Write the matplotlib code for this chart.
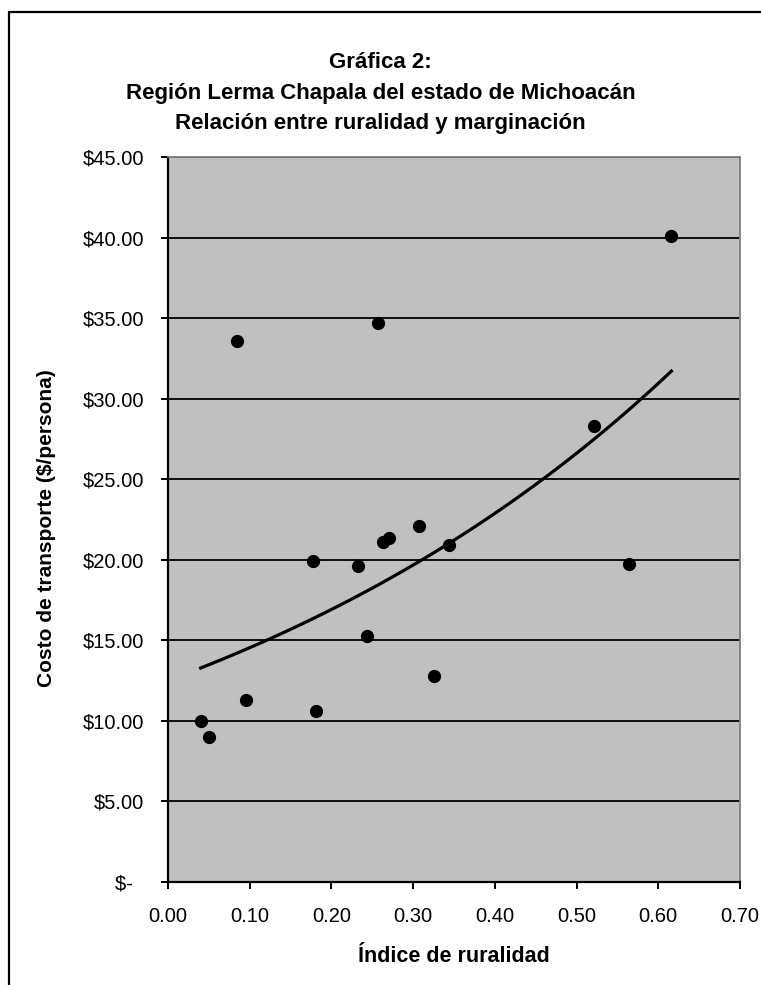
import numpy as np
import matplotlib
matplotlib.use('Agg')
import matplotlib.pyplot as plt
from matplotlib.patches import Rectangle
from matplotlib.ticker import FuncFormatter, MultipleLocator

plt.rcParams['font.family'] = ['Liberation Sans', 'DejaVu Sans']

# datos
ruralidad = [0.040, 0.050, 0.085, 0.096, 0.177, 0.181, 0.232, 0.244, 0.257,
             0.263, 0.271, 0.307, 0.326, 0.344, 0.521, 0.564, 0.616]
costo = [10.0, 9.0, 33.6, 11.3, 19.95, 10.6, 19.6, 15.25, 34.7,
         21.1, 21.35, 22.1, 12.8, 20.9, 28.3, 19.75, 40.1]

titulo = 'Gráfica 2:\nRegión Lerma Chapala del estado de Michoacán\nRelación entre ruralidad y marginación'
etiqueta_x = 'Índice de ruralidad'
etiqueta_y = 'Costo de transporte ($/persona)'

fig = plt.figure(figsize=(7.61, 9.85), dpi=100)
W, H = 761, 985

# marco exterior del gráfico (recortado a la derecha y abajo)
fig.patches.append(Rectangle((9 / W, -0.1), 1.2, 1 - 12 / H + 0.1, transform=fig.transFigure,
                             fill=False, edgecolor='black', linewidth=1.6, clip_on=False))

ax = fig.add_axes([168 / W, 1 - 882 / H, (740 - 168) / W, (882 - 157) / H])
ax.set_facecolor('#C0C0C0')

ax.set_xlim(0, 0.70)
ax.set_ylim(0, 45)
ax.xaxis.set_major_locator(MultipleLocator(0.10))
ax.yaxis.set_major_locator(MultipleLocator(5))
ax.xaxis.set_major_formatter(FuncFormatter(lambda v, p: f'{v:.2f}'))
ax.yaxis.set_major_formatter(FuncFormatter(lambda v, p: '$-  ' if abs(v) < 1e-9 else f'${v:.2f}'))

ax.grid(axis='y', color='black', linewidth=1.3)
ax.set_axisbelow(True)

for s in ['top', 'right']:
    ax.spines[s].set_color('#808080')
    ax.spines[s].set_linewidth(1.3)
for s in ['left', 'bottom']:
    ax.spines[s].set_color('black')
    ax.spines[s].set_linewidth(1.6)

ax.tick_params(axis='both', direction='out', length=5, width=1.4, colors='black', labelsize=14.5)
ax.tick_params(axis='y', pad=12)
ax.tick_params(axis='x', pad=13)

# línea de tendencia exponencial (ajuste de mínimos cuadrados sobre ln y)
b, lna = np.polyfit(ruralidad, np.log(costo), 1)
xt = np.linspace(min(ruralidad), max(ruralidad), 100)
ax.plot(xt, np.exp(lna) * np.exp(b * xt), color='black', linewidth=2.3, zorder=3)

ax.plot(ruralidad, costo, 'o', color='black', markersize=8.5, zorder=4)

fig.text(0.5, 1 - 93 / H, titulo, ha='center', va='center', fontsize=16, fontweight='bold',
         linespacing=1.6)
fig.text(454 / W, 1 - 956 / H, etiqueta_x, ha='center', va='center', fontsize=15.5, fontweight='bold')
fig.text(47 / W, 1 - 528 / H, etiqueta_y, ha='center', va='center', rotation=90,
         fontsize=15, fontweight='bold')

fig.savefig('out.png', dpi=100, facecolor='white')
